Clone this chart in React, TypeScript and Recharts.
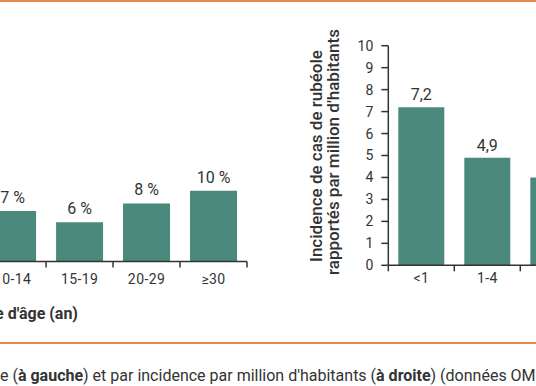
import React from 'react';
import { BarChart, Bar, XAxis, YAxis, LabelList } from 'recharts';

const LEFT_CATS = ['10-14', '15-19', '20-29', '≥30'];
const LEFT_VALUES = [7.2, 5.6, 8.3, 10.1];
const RIGHT_CATS = ['<1', '1-4', '5-9'];
const RIGHT_VALUES = [7.2, 4.9, 4.0];
const RIGHT_TICKS = [0, 1, 2, 3, 4, 5, 6, 7, 8, 9, 10];
const Y_TITLE = ['Incidence de cas de rubéole', "rapportés par million d'habitants"];
const X_TITLE = "Groupe d'âge (an)";

const TEAL = '#4B897C';
const INK = '#333333';
const ORANGE = '#E0894A';

const leftData = LEFT_CATS.map((c, i) => ({ cat: c, value: LEFT_VALUES[i] }));
const rightData = RIGHT_CATS.map((c, i) => ({ cat: c, value: RIGHT_VALUES[i] }));

// category ticks: label at centre, small tick mark at band boundary
const makeTick = (band: number, dy: number, firstEdge: boolean) =>
  (props: any) => {
    const { x, y, payload, index } = props;
    return (
      <g>
        <line x1={x + band / 2} x2={x + band / 2} y1={y} y2={y + 6} stroke={INK} strokeWidth={1.5} />
        {firstEdge && index === 0 && (
          <line x1={x - band / 2} x2={x - band / 2} y1={y} y2={y + 6} stroke={INK} strokeWidth={1.5} />
        )}
        <text x={x} y={y + dy} textAnchor="middle" fill={INK} fontSize={14} letterSpacing={0.4}>{payload.value}</text>
      </g>
    );
  };

const YTitle = () => (
  <g fill={INK} fontSize={17} fontWeight={500}>
    <text transform="translate(42,156) rotate(-90)" textAnchor="middle">{Y_TITLE[0]}</text>
    <text transform="translate(59,152) rotate(-90)" textAnchor="middle">{Y_TITLE[1]}</text>
  </g>
);

export default function App() {
  return (
    <div style={{ position: 'absolute', left: 0, top: 0, width: 536, height: 386, overflow: 'hidden', background: '#fff', fontFamily: 'Roboto, sans-serif', color: INK }}>
      <div style={{ position: 'absolute', left: 0, top: 0, width: 536, height: 2, background: ORANGE }} />

      <div style={{ position: 'absolute', left: -40, top: 0 }}>
        <BarChart width={300} height={300} data={leftData} margin={{ top: 51.5, right: 13, bottom: 8.5, left: 19.1 }}>
          <XAxis dataKey="cat" height={30} axisLine={{ stroke: INK, strokeWidth: 1.5 }} tickLine={false}
            tickSize={0} tickMargin={0} interval={0} tick={makeTick(267.9 / 4, 22, false)} />
          <YAxis hide domain={[0, 30]} />
          <Bar dataKey="value" fill={TEAL} barSize={47} isAnimationActive={false}>
            <LabelList dataKey="value" position="top" offset={8} fill={INK} fontSize={16}
              formatter={(v: any) => `${Math.round(Number(v))} %`} />
          </Bar>
        </BarChart>
      </div>

      <div style={{ position: 'absolute', left: 280, top: 0 }}>
        <BarChart width={320} height={300} data={rightData} margin={{ top: 45.7, right: 13.7, bottom: 4.7, left: 68.3 }}>
          <XAxis dataKey="cat" height={30} axisLine={{ stroke: INK, strokeWidth: 1.5 }} tickLine={false}
            tickSize={0} tickMargin={0} interval={0} tick={makeTick(66, 18, true)} />
          <YAxis width={40} domain={[0, 10]} ticks={RIGHT_TICKS} interval={0} tickSize={7} tickMargin={8}
            axisLine={{ stroke: INK, strokeWidth: 1.5 }} tickLine={{ stroke: INK, strokeWidth: 1.5 }}
            tick={{ fill: INK, fontSize: 14 }} label={<YTitle />} />
          <Bar dataKey="value" fill={TEAL} barSize={46} isAnimationActive={false}>
            <LabelList dataKey="value" position="top" offset={7} fill={INK} fontSize={16}
              formatter={(v: any) => Number(v).toFixed(1).replace('.', ',')} />
          </Bar>
        </BarChart>
      </div>

      <div style={{ position: 'absolute', right: 458, top: 305, fontSize: 16, lineHeight: '18px', fontWeight: 700, whiteSpace: 'nowrap' }}>
        {X_TITLE}
      </div>

      <div style={{ position: 'absolute', left: 0, top: 342, width: 536, height: 2, background: ORANGE }} />

      <div style={{ position: 'absolute', left: 0, top: 367, fontSize: 16, lineHeight: '18px', whiteSpace: 'nowrap' }}>
        e (<b>à gauche</b>) et par incidence par million d'habitants (<b>à droite</b>) (données OMS)
      </div>
    </div>
  );
}
